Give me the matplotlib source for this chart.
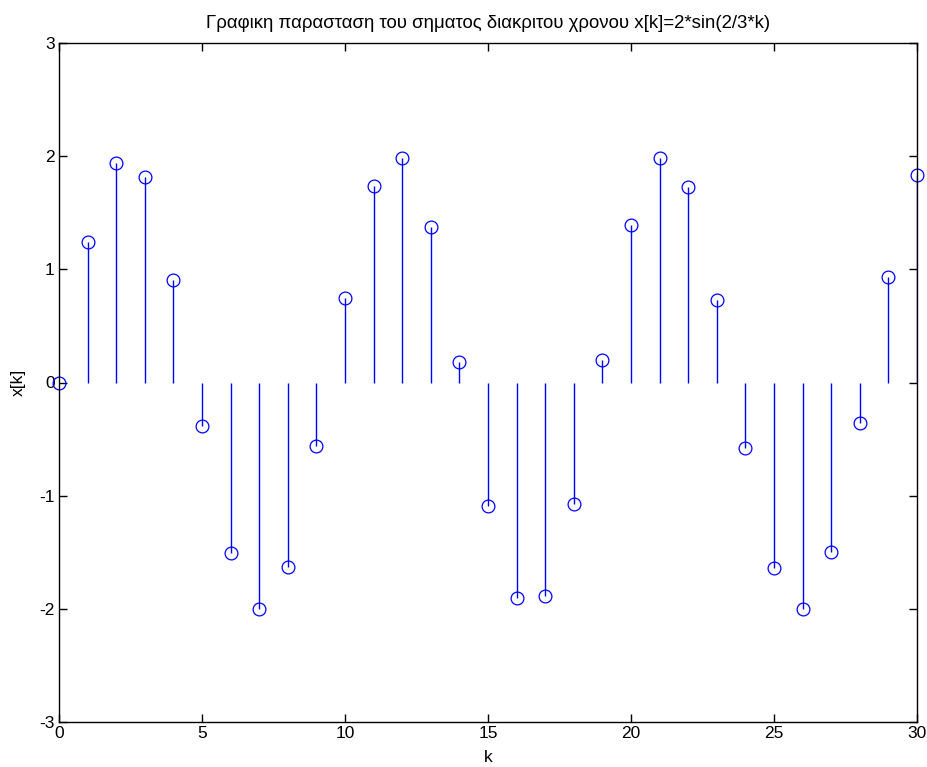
import matplotlib
matplotlib.use("Agg")
import matplotlib.pyplot as plt

k = list(range(0, 31))
x = [0.00, 1.24, 1.94, 1.82, 0.91, -0.38, -1.51, -2.00, -1.63, -0.56,
     0.75, 1.74, 1.98, 1.37, 0.18, -1.09, -1.90, -1.89, -1.07, 0.20,
     1.39, 1.98, 1.73, 0.73, -0.58, -1.64, -2.00, -1.50, -0.36, 0.93, 1.83]
xticks = [0, 5, 10, 15, 20, 25, 30]
yticks = [-3, -2, -1, 0, 1, 2, 3]
title = "Γραφικη παρασταση του σηματος διακριτου χρονου x[k]=2*sin(2/3*k)"

plt.rcParams['font.family'] = ['Liberation Sans', 'DejaVu Sans']
fig = plt.figure(figsize=(9.27, 7.67), dpi=100)
ax = fig.add_axes([59/927, (767-722)/767, (917-59)/927, (722-43)/767])

ax.vlines(k, 0, x, colors='#0000ff', linewidth=1.0)
ax.plot(k, x, linestyle='none', marker='o', markersize=9.2,
        markerfacecolor='none', markeredgecolor='#0000ff', markeredgewidth=0.9,
        clip_on=False)

ax.set_xlim(0, 30)
ax.set_ylim(-3, 3)
ax.set_xticks(xticks)
ax.set_yticks(yticks)
ax.set_xticklabels([str(v) for v in xticks])
ax.set_yticklabels([str(v) for v in yticks])
ax.tick_params(direction='in', length=6, width=1, top=True, right=True,
               labelsize=12.5, pad=3)
for s in ax.spines.values():
    s.set_linewidth(1.0)
ax.set_xlabel('k', fontsize=12.5, labelpad=6)
ax.set_ylabel('x[k]', fontsize=12.5, labelpad=10)
ax.set_title(title, fontsize=13.4, pad=11)

fig.savefig('out.png', dpi=100)
